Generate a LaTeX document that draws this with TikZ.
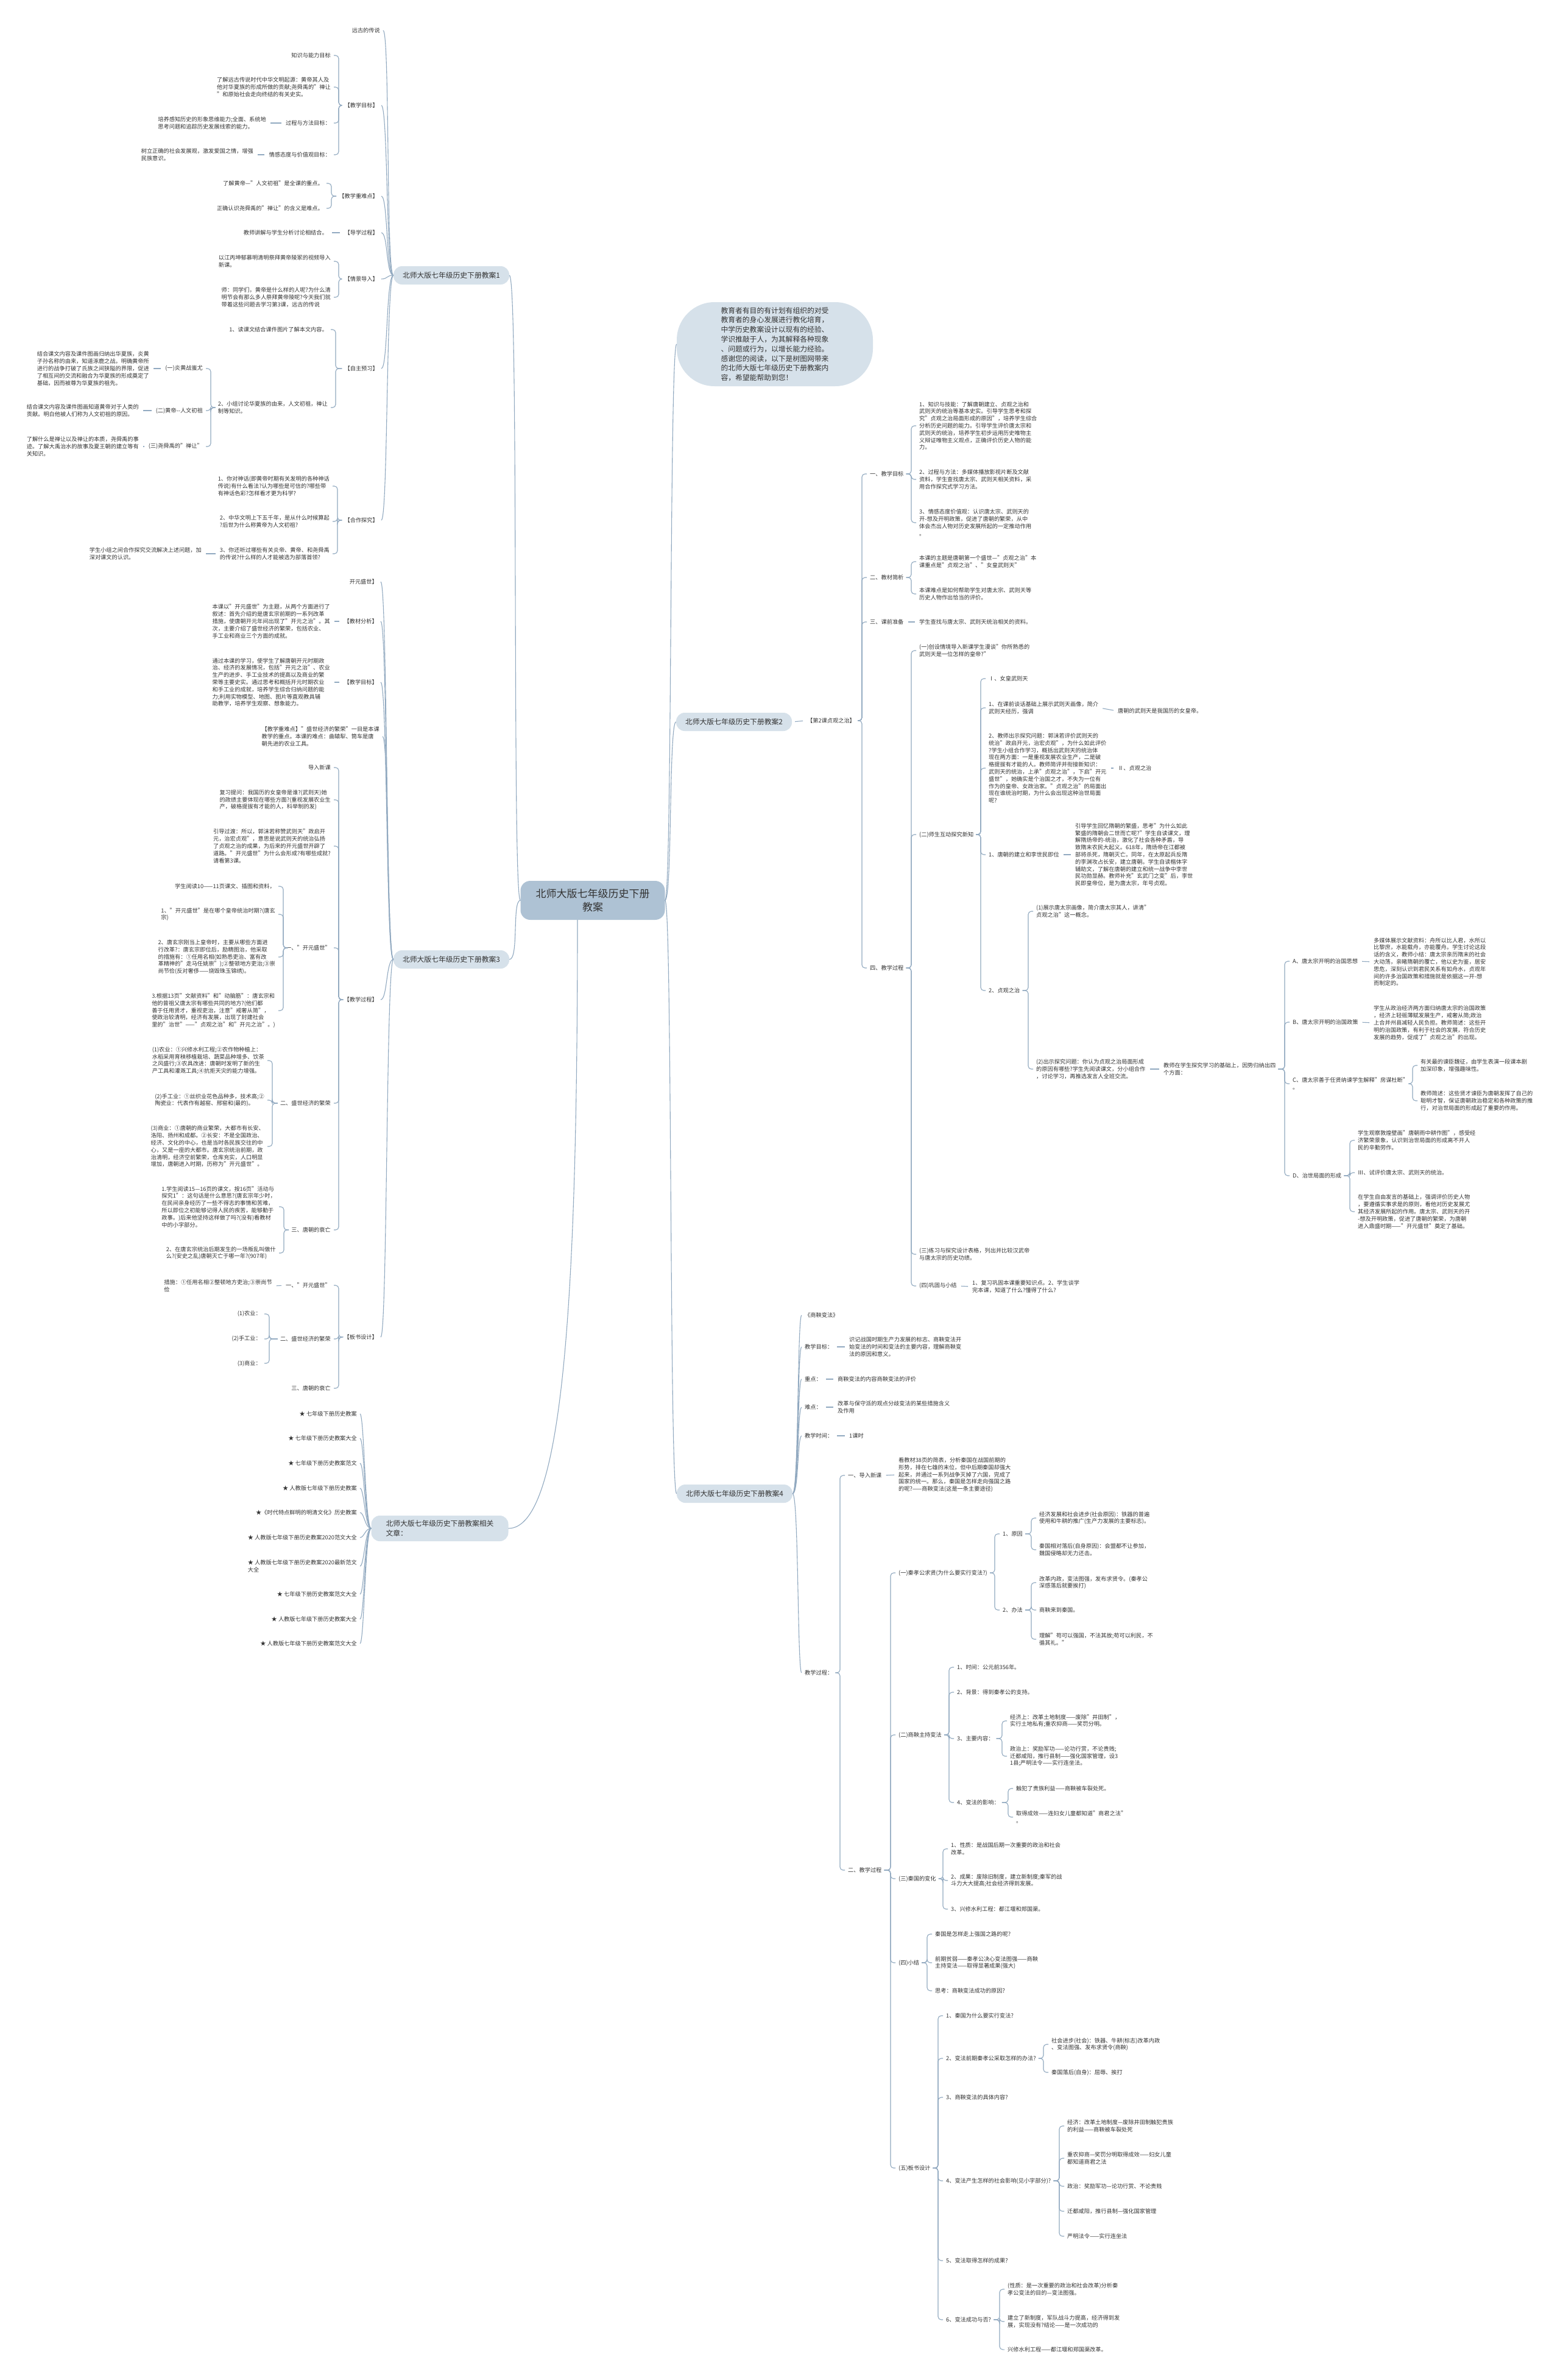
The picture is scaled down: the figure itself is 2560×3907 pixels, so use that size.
\documentclass[tikz,border=0pt]{standalone}
\usepackage{fontspec}
\setmainfont{Noto Sans CJK SC}
\usetikzlibrary{calc}
\definecolor{wireBlue}{HTML}{91A9C0}
\definecolor{rootFill}{HTML}{AEC2D4}
\definecolor{topicFill}{HTML}{D6E1EA}
\definecolor{inkGray}{HTML}{333333}

\begin{document}
\begin{tikzpicture}[x=1pt, y=-1pt,
	root/.style={
		rounded corners=16pt, fill=rootFill, text=inkGray,
		font=\fontsize{17}{22}\selectfont, align=center,
		minimum width=237pt, minimum height=64pt
	},
	topic/.style={
		rounded corners=14pt, fill=topicFill, text=inkGray,
		font=\fontsize{11.8}{15.8}\selectfont, align=left,
		minimum width=190pt, minimum height=30pt
	},
	leaf/.style={
		text=inkGray, font=\fontsize{9.2}{11.8}\selectfont,
		align=left, inner xsep=2pt, inner ysep=1pt
	},
	lf/.style={leaf, anchor=east},
	rt/.style={leaf, anchor=west},
	wire/.style={draw=wireBlue, line width=1.1pt},
	bracket/.style={wire, rounded corners=5pt, shorten <=2pt, shorten >=3pt},
	link/.style={wire, shorten <=5pt, shorten >=5pt}
	]

	\fill[white] (0,0) rectangle (2560,3907);
	\useasboundingbox (0,0) rectangle (2560,3907);

	\node[root] (root) at (973,1478) {北师大版七年级历史下册\\教案};

	\node[topic, rounded corners=62pt, minimum width=322pt, minimum height=138pt] (intro) at (1272,565)
	{教育者有目的有计划有组织的对受\\教育者的身心发展进行教化培育，\\中学历史教案设计以现有的经验、\\学识推敲于人，为其解释各种现象\\、问题或行为，以增长能力经验。\\感谢您的阅读，以下是树图网带来\\的北师大版七年级历史下册教案内\\容，希望能帮助到您！};
	\node[topic] (b1) at (741,452) {北师大版七年级历史下册教案1};
	\node[topic] (b3) at (741,1575) {北师大版七年级历史下册教案3};
	\node[topic, minimum width=225pt, minimum height=42pt] (rel) at (722,2509) {北师大版七年级历史下册教案相关\\文章：};
	\node[topic] (b2) at (1205,1185) {北师大版七年级历史下册教案2};
	\node[topic] (b4) at (1206,2452) {北师大版七年级历史下册教案4};

	\draw[wire] (root.west) .. controls +(-14,0) and +(16,0) .. (b1.east);
	\draw[wire] (root.west) .. controls +(-14,0) and +(16,0) .. (b3.east);
	\draw[wire] ([xshift=-25pt]root.south) .. controls +(0,620) and +(90,0) .. (rel.east);
	\draw[wire] (root.east) .. controls +(12,0) and +(-12,0) .. (intro.west);
	\draw[wire] (root.east) .. controls +(12,0) and +(-12,0) .. (b2.west);
	\draw[wire] (root.east) .. controls +(12,0) and +(-12,0) .. (b4.west);

	% lesson 1
	\node[lf] (b1a) at (626,50) {远古的传说};
	\node[lf] (b1goal) at (623,173) {【教学目标】};
	\node[lf] (b1key) at (623,322) {【教学重难点】};
	\node[lf] (b1guide) at (623,382) {【导学过程】};
	\node[lf] (b1scene) at (623,458) {【情景导入】};
	\node[lf] (b1self) at (623,605) {【自主预习】};
	\node[lf] (b1coop) at (623,854) {【合作探究】};
	\foreach \c in {b1a,b1goal,b1key,b1guide,b1scene,b1self,b1coop}
		\draw[wire, shorten >=3pt] (b1.west) .. controls +(-12,0) and +(14,0) .. (\c.east);

	\node[lf] (g1) at (545,91) {知识与能力目标};
	\node[lf] (g2) at (545,143) {了解远古传说时代中华文明起源：黄帝其人及\\他对华夏族的形成所做的贡献;尧舜禹的"禅让\\"和原始社会走向终结的有关史实。};
	\node[lf] (g3) at (545,202) {过程与方法目标：};
	\node[lf] (g4) at (545,254) {情感态度与价值观目标：};
	\foreach \c in {g1,g2,g3,g4}
		\draw[bracket] (b1goal.west) -| ([xshift=11pt]\c.east) -- (\c.east);
	\node[lf] (g3a) at (439,202) {培养感知历史的形象思维能力;全面、系统地\\思考问题和追踪历史发展线索的能力。};
	\node[lf] (g4a) at (418,254) {树立正确的社会发展观，激发爱国之情，增强\\民族意识。};
	\draw[link] (g3.west) -- (g3a.east);
	\draw[link] (g4.west) -- (g4a.east);

	\node[lf] (k1) at (533,301) {了解黄帝—"人文初祖"是全课的重点。};
	\node[lf] (k2) at (533,342) {正确认识尧舜禹的"禅让"的含义是难点。};
	\foreach \c in {k1,k2}
		\draw[bracket] (b1key.west) -| ([xshift=11pt]\c.east) -- (\c.east);

	\node[lf] (gd1) at (540,382) {教师讲解与学生分析讨论相结合。};
	\draw[link] (b1guide.west) -- (gd1.east);

	\node[lf] (s1) at (545,429) {以江丙坤郁慕明清明祭拜黄帝陵冢的视频导入\\新课。};
	\node[lf] (s2) at (545,488) {师：同学们，黄帝是什么样的人呢?为什么清\\明节会有那么多人祭拜黄帝陵呢?今天我们就\\带着这些问题去学习第3课，远古的传说};
	\foreach \c in {s1,s2}
		\draw[bracket] (b1scene.west) -| ([xshift=11pt]\c.east) -- (\c.east);

	\node[lf] (p1) at (540,541) {1、读课文结合课件图片了解本文内容。};
	\node[lf] (p2) at (540,669) {2、小组讨论华夏族的由来，人文初祖，禅让\\制等知识。};
	\foreach \c in {p1,p2}
		\draw[bracket] (b1self.west) -| ([xshift=11pt]\c.east) -- (\c.east);
	\node[lf] (p2a) at (335,605) {(一)炎黄战蚩尤};
	\node[lf] (p2b) at (335,674) {(二)黄帝-{}-人文初祖};
	\node[lf] (p2c) at (335,733) {(三)尧舜禹的"禅让"};
	\foreach \c in {p2a,p2b,p2c}
		\draw[bracket] (p2.west) -| ([xshift=11pt]\c.east) -- (\c.east);
	\node[lf] (p2a1) at (247,605) {结合课文内容及课件图画归纳出华夏族，炎黄\\子孙名称的由来，知道涿鹿之战。明确黄帝所\\进行的战争打破了氏族之间狭隘的界限，促进\\了相互间的交流和融合为华夏族的形成奠定了\\基础，因而被尊为华夏族的祖先。};
	\node[lf] (p2b1) at (230,674) {结合课文内容及课件图画知道黄帝对于人类的\\贡献。明白他被人们称为人文初祖的原因。};
	\node[lf] (p2c1) at (230,733) {了解什么是禅让以及禅让的本质，尧舜禹的事\\迹。了解大禹治水的故事及夏王朝的建立等有\\关知识。};
	\draw[link] (p2a.west) -- (p2a1.east);
	\draw[link] (p2b.west) -- (p2b1.east);
	\draw[link] (p2c.west) -- (p2c1.east);

	\node[lf] (c1) at (543,798) {1、你对神话(即黄帝时期有关发明的各种神话\\传说)有什么看法?认为哪些是可信的?哪些带\\有神话色彩?怎样看才更为科学?};
	\node[lf] (c2) at (543,856) {2、中华文明上下五千年，是从什么时候算起\\?后世为什么称黄帝为人文初祖?};
	\node[lf] (c3) at (543,909) {3、你还听过哪些有关炎帝、黄帝、和尧舜禹\\的传说?什么样的人才能被选为部落首领?};
	\foreach \c in {c1,c2,c3}
		\draw[bracket] (b1coop.west) -| ([xshift=11pt]\c.east) -- (\c.east);
	\node[lf] (c3a) at (333,909) {学生小组之间合作探究交流解决上述问题，加\\深对课文的认识。};
	\draw[link] (c3.west) -- (c3a.east);

	% lesson 3
	\node[lf] (t1) at (622,955) {开元盛世】};
	\node[lf] (t2) at (622,1020) {【教材分析】};
	\node[lf] (t3) at (622,1120) {【教学目标】};
	\node[lf] (t4) at (625,1209) {【教学重难点】"盛世经济的繁荣"一目是本课\\教学的重点。本课的难点：曲辕犁、筒车是唐\\朝先进的农业工具。};
	\node[lf] (t5) at (622,1641) {【教学过程】};
	\node[lf] (t6) at (622,2195) {【板书设计】};
	\foreach \c in {t1,t2,t3,t4,t5,t6}
		\draw[wire, shorten >=3pt] (b3.west) .. controls +(-12,0) and +(14,0) .. (\c.east);

	\node[lf] (t2a) at (544,1020) {本课以"开元盛世"为主题，从两个方面进行了\\叙述：首先介绍的是唐玄宗前期的一系列改革\\措施，使唐朝开元年间出现了"开元之治"。其\\次，主要介绍了盛世经济的繁荣，包括农业、\\手工业和商业三个方面的成就。};
	\node[lf] (t3a) at (544,1120) {通过本课的学习，使学生了解唐朝开元时期政\\治、经济的发展情况，包括"开元之治"、农业\\生产的进步、手工业技术的提高以及商业的繁\\荣等主要史实。通过思考和概括开元时期农业\\和手工业的成就，培养学生综合归纳问题的能\\力;利用实物模型、地图、图片等直观教具辅\\助教学，培养学生观察、想象能力。};
	\draw[link] (t2.west) -- (t2a.east);
	\draw[link] (t3.west) -- (t3a.east);

	\node[lf] (t5a) at (545,1260) {导入新课};
	\node[lf] (t5b) at (545,1313) {复习提问：我国历的女皇帝是谁?(武则天)她\\的政绩主要体现在哪些方面?(重视发展农业生\\产，破格提拔有才能的人，科举制的发)};
	\node[lf] (t5c) at (545,1389) {引导过渡：所以，郭沫若称赞武则天"政启开\\元，治宏贞观"，意思是说武则天的统治弘扬\\了贞观之治的成果，为后来的开元盛世开辟了\\道路。"开元盛世"为什么会形成?有哪些成就?\\请看第3课。};
	\node[lf] (t5d) at (545,1556) {一、"开元盛世"};
	\node[lf] (t5e) at (545,1811) {二、盛世经济的繁荣};
	\node[lf] (t5f) at (545,2019) {三、唐朝的衰亡};
	\foreach \c in {t5a,t5b,t5c,t5d,t5e,t5f}
		\draw[bracket] (t5.west) -| ([xshift=11pt]\c.east) -- (\c.east);

	\node[lf] (t5d1) at (454,1455) {学生阅读10——11页课文、插图和资料，};
	\node[lf] (t5d2) at (454,1501) {1、"开元盛世"是在哪个皇帝统治时期?(唐玄\\宗)};
	\node[lf] (t5d3) at (454,1571) {2、唐玄宗刚当上皇帝时，主要从哪些方面进\\行改革?：唐玄宗即位后，励精图治，他采取\\的措施有：①任用名相(如熟悉吏治、富有改\\革精神的"走马任姚崇");②整顿地方吏治;③崇\\尚节俭(反对奢侈——烧毁珠玉锦绣)。};
	\node[lf] (t5d4) at (454,1659) {3.根据13页"文献资料"和"动脑筋"：唐玄宗和\\他的曾祖父唐太宗有哪些共同的地方?(他们都\\善于任用贤才，重视吏治，注意"戒奢从简"，\\使政治较清明，经济有发展，出现了封建社会\\里的"治世"——"贞观之治"和"开元之治"。)};
	\foreach \c in {t5d1,t5d2,t5d3,t5d4}
		\draw[bracket] (t5d.west) -| ([xshift=11pt]\c.east) -- (\c.east);

	\node[lf] (t5e1) at (436,1741) {(1)农业：①兴修水利工程;②农作物种植上：\\水稻采用育秧移植栽培、蔬菜品种增多、饮茶\\之风盛行;③农具改进：唐朝时发明了新的生\\产工具和灌溉工具;④抗拒天灾的能力增强。};
	\node[lf] (t5e2) at (436,1806) {(2)手工业：①丝织业花色品种多，技术高;②\\陶瓷业：代表作有越窑、邢窑和(最的)。};
	\node[lf] (t5e3) at (436,1882) {(3)商业：①唐朝的商业繁荣，大都市有长安、\\洛阳、扬州和成都。②长安：不是全国政治、\\经济、文化的中心，也是当时各民族交往的中\\心，又是一座的大都市。唐玄宗统治前期，政\\治清明，经济空前繁荣，仓库充实，人口明显\\增加，唐朝进入时期，历称为"开元盛世"。};
	\foreach \c in {t5e1,t5e2,t5e3}
		\draw[bracket] (t5e.west) -| ([xshift=11pt]\c.east) -- (\c.east);

	\node[lf] (t5f1) at (455,1981) {1.学生阅读15—16页的课文，按16页"活动与\\探究1"：这句话是什么意思?(唐玄宗年少时，\\在民间亲身经历了一些不得志的事情和苦难，\\所以即位之初能够记得人民的疾苦，能够勤于\\政事。)后来他坚持这样做了吗?(没有)看教材\\中的小字部分。};
	\node[lf] (t5f2) at (455,2057) {2、在唐玄宗统治后期发生的一场叛乱叫做什\\么?(安史之乱)唐朝灭亡于哪一年?(907年)};
	\foreach \c in {t5f1,t5f2}
		\draw[bracket] (t5f.west) -| ([xshift=11pt]\c.east) -- (\c.east);

	\node[lf] (t6a) at (545,2110) {一、"开元盛世"};
	\node[lf] (t6b) at (545,2198) {二、盛世经济的繁荣};
	\node[lf] (t6c) at (545,2279) {三、唐朝的衰亡};
	\foreach \c in {t6a,t6b,t6c}
		\draw[bracket] (t6.west) -| ([xshift=11pt]\c.east) -- (\c.east);
	\node[lf] (t6a1) at (449,2111) {措施：①任用名相②整顿地方吏治;③崇尚节\\俭};
	\draw[link] (t6a.west) -- (t6a1.east);
	\node[lf] (t6b1) at (431,2157) {(1)农业：};
	\node[lf] (t6b2) at (431,2198) {(2)手工业：};
	\node[lf] (t6b3) at (431,2238) {(3)商业：};
	\foreach \c in {t6b1,t6b2,t6b3}
		\draw[bracket] (t6b.west) -| ([xshift=11pt]\c.east) -- (\c.east);

	% related articles
	\node[lf] (r1) at (588,2321) {★ 七年级下册历史教案};
	\node[lf] (r2) at (588,2361) {★ 七年级下册历史教案大全};
	\node[lf] (r3) at (588,2402) {★ 七年级下册历史教案范文};
	\node[lf] (r4) at (588,2443) {★ 人教版七年级下册历史教案};
	\node[lf] (r5) at (588,2483) {★《时代特点鲜明的明清文化》历史教案};
	\node[lf] (r6) at (588,2524) {★ 人教版七年级下册历史教案2020范文大全};
	\node[lf] (r7) at (588,2571) {★ 人教版七年级下册历史教案2020最新范文\\大全};
	\node[lf] (r8) at (588,2617) {★ 七年级下册历史教案范文大全};
	\node[lf] (r9) at (588,2658) {★ 人教版七年级下册历史教案大全};
	\node[lf] (r10) at (588,2698) {★ 人教版七年级下册历史教案范文大全};
	\foreach \c in {r1,r2,r3,r4,r5,r6,r7,r8,r9,r10}
		\draw[wire, shorten >=3pt] (rel.west) .. controls +(-10,0) and +(10,0) .. (\c.east);

	% lesson 2
	\node[rt] (ch2) at (1323,1183) {【第2课贞观之治】};
	\draw[link] (b2.east) -- (ch2.west);
	\node[rt] (u1) at (1426,778) {一、教学目标};
	\node[rt] (u2) at (1426,948) {二、教材简析};
	\node[rt] (u3) at (1426,1021) {三、课前准备};
	\node[rt] (u4) at (1426,1589) {四、教学过程};
	\foreach \c in {u1,u2,u3,u4}
		\draw[bracket] (ch2.east) -| ([xshift=-11pt]\c.west) -- (\c.west);

	\node[rt] (u1a) at (1507,699) {1、知识与技能：了解唐朝建立、贞观之治和\\武则天的统治等基本史实。引导学生思考和探\\究"贞观之治局面形成的原因"，培养学生综合\\分析历史问题的能力。引导学生评价唐太宗和\\武则天的统治，培养学生初步运用历史唯物主\\义辩证唯物主义观点，正确评价历史人物的能\\力。};
	\node[rt] (u1b) at (1507,787) {2、过程与方法：多媒体播放影视片断及文献\\资料，学生查找唐太宗、武则天相关资料，采\\用合作探究式学习方法。};
	\node[rt] (u1c) at (1507,858) {3、情感态度价值观：认识唐太宗、武则天的\\开-想及开明政策，促进了唐朝的繁荣，从中\\体会杰出人物对历史发展所起的一定推动作用\\。};
	\foreach \c in {u1a,u1b,u1c}
		\draw[bracket] (u1.east) -| ([xshift=-11pt]\c.west) -- (\c.west);
	\node[rt] (u2a) at (1507,922) {本课的主题是唐朝第一个盛世—"贞观之治"本\\课重点是"贞观之治"、"女皇武则天"};
	\node[rt] (u2b) at (1507,975) {本课难点是如何帮助学生对唐太宗、武则天等\\历史人物作出恰当的评价。};
	\foreach \c in {u2a,u2b}
		\draw[bracket] (u2.east) -| ([xshift=-11pt]\c.west) -- (\c.west);
	\node[rt] (u3a) at (1507,1021) {学生查找与唐太宗、武则天统治相关的资料。};
	\draw[link] (u3.east) -- (u3a.west);

	\node[rt] (u4a) at (1507,1068) {(一)创设情境导入新课学生漫谈"你所熟悉的\\武则天是一位怎样的皇帝?"};
	\node[rt] (u4b) at (1507,1370) {(二)师生互动探究新知};
	\node[rt] (u4c) at (1507,2059) {(三)练习与探究设计表格，列出并比较汉武帝\\与唐太宗的历史功绩。};
	\node[rt] (u4d) at (1507,2111) {(四)巩固与小结};
	\foreach \c in {u4a,u4b,u4c,u4d}
		\draw[bracket] (u4.east) -| ([xshift=-11pt]\c.west) -- (\c.west);
	\node[rt] (u4d1) at (1594,2112) {1、复习巩固本课重要知识点。2、学生谈学\\完本课，知道了什么?懂得了什么?};
	\draw[link] (u4d.east) -- (u4d1.west);

	\node[rt] (v1) at (1621,1114) {Ⅰ、女皇武则天};
	\node[rt] (v2) at (1621,1162) {1、在课前谈话基础上展示武则天画像，简介\\武则天经历，强调};
	\node[rt] (v3) at (1621,1261) {2、教师出示探究问题：郭沫若评价武则天的\\统治"政启开元，治宏贞观"，为什么如此评价\\?学生小组合作学习，概括出武则天的统治体\\现在两方面：一是重视发展农业生产，二是破\\格提拔有才能的人。教师简评并衔接新知识：\\武则天的统治，上承"贞观之治"，下启"开元\\盛世"，她确实是个治国之才，不失为一位有\\作为的皇帝、女政治家。"贞观之治"的局面出\\现在谁统治时期，为什么会出现这种治世局面\\呢?};
	\node[rt] (v4) at (1621,1403) {1、唐朝的建立和李世民即位};
	\node[rt] (v5) at (1621,1626) {2、贞观之治};
	\foreach \c in {v1,v2,v3,v4,v5}
		\draw[bracket] (u4b.east) -| ([xshift=-11pt]\c.west) -- (\c.west);
	\node[rt] (v2a) at (1833,1167) {唐朝的武则天是我国历的女皇帝。};
	\node[rt] (v3a) at (1833,1261) {Ⅱ、贞观之治};
	\node[rt] (v4a) at (1763,1403) {引导学生回忆隋朝的繁盛，思考"为什么如此\\繁盛的隋朝会二世而亡呢?"学生自读课文，理\\解隋炀帝的-统治，激化了社会各种矛盾，导\\致隋末农民大起义。618年，隋炀帝在江都被\\部将杀死，隋朝灭亡。同年，在太原起兵反隋\\的李渊攻占长安，建立唐朝。学生自读楷体字\\辅助文，了解在唐朝的建立和统一战争中李世\\民功勋显赫。教师补充"玄武门之变"后，李世\\民即皇帝位，是为唐太宗，年号贞观。};
	\draw[link] (v2.east) -- (v2a.west);
	\draw[link] (v3.east) -- (v3a.west);
	\draw[link] (v4.east) -- (v4a.west);

	\node[rt] (v5a) at (1699,1496) {(1)展示唐太宗画像，简介唐太宗其人，讲清"\\贞观之治"这一概念。};
	\node[rt] (v5b) at (1699,1755) {(2)出示探究问题：你认为贞观之治局面形成\\的原因有哪些?学生先阅读课文，分小组合作\\，讨论学习，再推选发言人全班交流。};
	\foreach \c in {v5a,v5b}
		\draw[bracket] (v5.east) -| ([xshift=-11pt]\c.west) -- (\c.west);
	\node[rt] (v5c) at (1908,1755) {教师在学生探究学习的基础上，因势归纳出四\\个方面：};
	\draw[link] (v5b.east) -- (v5c.west);

	\node[rt] (w1) at (2120,1578) {A、唐太宗开明的治国思想};
	\node[rt] (w2) at (2120,1678) {B、唐太宗开明的治国政策};
	\node[rt] (w3) at (2120,1779) {C、唐太宗善于任贤纳谏学生解释"房谋杜断"\\。};
	\node[rt] (w4) at (2120,1930) {D、治世局面的形成};
	\foreach \c in {w1,w2,w3,w4}
		\draw[bracket] (v5c.east) -| ([xshift=-11pt]\c.west) -- (\c.west);
	\node[rt] (w1a) at (2253,1579) {多媒体展示文献资料：舟所以比人君，水所以\\比黎庶，水能载舟，亦能覆舟。学生讨论这段\\话的含义，教师小结：唐太宗亲历隋末的社会\\大动荡，亲睹隋朝的覆亡，他以史为鉴，居安\\思危，深刻认识到君民关系有如舟水，贞观年\\间的许多治国政策和措施就是依据这一开-想\\而制定的。};
	\node[rt] (w2a) at (2253,1679) {学生从政治经济两方面归纳唐太宗的治国政策\\，经济上轻徭薄赋发展生产，戒奢从简;政治\\上合并州县减轻人民负担。教师简述：这些开\\明的治国政策，有利于社会的发展，符合历史\\发展的趋势，促成了"贞观之治"的出现。};
	\draw[link] (w1.east) -- (w1a.west);
	\draw[link] (w2.east) -- (w2a.west);
	\node[rt] (w3a) at (2330,1749) {有关最的谏臣魏征，由学生表演一段课本剧\\加深印象，增强趣味性。};
	\node[rt] (w3b) at (2330,1807) {教师简述：这些贤才谏臣为唐朝发挥了自己的\\聪明才智，保证唐朝政治稳定和各种政策的推\\行，对治世局面的形成起了重要的作用。};
	\foreach \c in {w3a,w3b}
		\draw[bracket] (w3.east) -| ([xshift=-11pt]\c.west) -- (\c.west);
	\node[rt] (w4a) at (2227,1872) {学生观察敦煌壁画"唐朝雨中耕作图"，感受经\\济繁荣景象，认识到治世局面的形成离不开人\\民的辛勤劳作。};
	\node[rt] (w4b) at (2227,1925) {Ⅲ、试评价唐太宗、武则天的统治。};
	\node[rt] (w4c) at (2227,1989) {在学生自由发言的基础上，强调评价历史人物\\，要遵循实事求是的原则，看他对历史发展尤\\其经济发展所起的作用。唐太宗、武则天的开\\-想及开明政策，促进了唐朝的繁荣，为唐朝\\进入鼎盛时期——"开元盛世"奠定了基础。};
	\foreach \c in {w4a,w4b,w4c}
		\draw[bracket] (w4.east) -| ([xshift=-11pt]\c.west) -- (\c.west);

	% lesson 4
	\node[rt] (x1) at (1319,2159) {《商鞅变法》};
	\node[rt] (x2) at (1319,2211) {教学目标：};
	\node[rt] (x3) at (1319,2264) {重点：};
	\node[rt] (x4) at (1319,2310) {难点：};
	\node[rt] (x5) at (1319,2357) {教学时间：};
	\node[rt] (x6) at (1319,2746) {教学过程：};
	\foreach \c in {x1,x2,x3,x4,x5,x6}
		\draw[wire, shorten >=3pt] (b4.east) .. controls +(10,0) and +(-10,0) .. (\c.west);
	\node[rt] (x2a) at (1392,2211) {识记战国时期生产力发展的标志、商鞅变法开\\始变法的时间和变法的主要内容，理解商鞅变\\法的原因和意义。};
	\node[rt] (x3a) at (1373,2264) {商鞅变法的内容商鞅变法的评价};
	\node[rt] (x4a) at (1373,2310) {改革与保守派的观点分歧变法的某些措施含义\\及作用};
	\node[rt] (x5a) at (1392,2357) {1课时};
	\draw[link] (x2.east) -- (x2a.west);
	\draw[link] (x3.east) -- (x3a.west);
	\draw[link] (x4.east) -- (x4a.west);
	\draw[link] (x5.east) -- (x5a.west);

	\node[rt] (y1) at (1390,2422) {一、导入新课};
	\node[rt] (y2) at (1390,3070) {二、教学过程};
	\foreach \c in {y1,y2}
		\draw[bracket] (x6.east) -| ([xshift=-11pt]\c.west) -- (\c.west);
	\node[rt] (y1a) at (1473,2421) {看教材38页的简表，分析秦国在战国前期的\\形势，排在七雄的末位，但中后期秦国却强大\\起来，并通过一系列战争灭掉了六国，完成了\\国家的统一。那么，秦国是怎样走向强国之路\\的呢?——商鞅变法(这是一条主要途径)};
	\draw[link] (y1.east) -- (y1a.west);

	\node[rt] (z1) at (1473,2582) {(一)秦孝公求贤(为什么要实行变法?)};
	\node[rt] (z2) at (1473,2848) {(二)商鞅主持变法};
	\node[rt] (z3) at (1473,3084) {(三)秦国的变化};
	\node[rt] (z4) at (1473,3222) {(四)小结};
	\node[rt] (z5) at (1473,3559) {(五)板书设计};
	\foreach \c in {z1,z2,z3,z4,z5}
		\draw[bracket] (y2.east) -| ([xshift=-11pt]\c.west) -- (\c.west);

	\node[rt] (z1a) at (1644,2518) {1、原因};
	\node[rt] (z1b) at (1644,2643) {2、办法};
	\foreach \c in {z1a,z1b}
		\draw[bracket] (z1.east) -| ([xshift=-11pt]\c.west) -- (\c.west);
	\node[rt] (z1a1) at (1704,2492) {经济发展和社会进步(社会原因)：铁器的普遍\\使用和牛耕的推广(生产力发展的主要标志)。};
	\node[rt] (z1a2) at (1704,2544) {秦国相对落后(自身原因)：会盟都不让参加，\\魏国侵略却无力还击。};
	\foreach \c in {z1a1,z1a2}
		\draw[bracket] (z1a.east) -| ([xshift=-11pt]\c.west) -- (\c.west);
	\node[rt] (z1b1) at (1704,2598) {改革内政，变法图强，发布求贤令。(秦孝公\\深感落后就要挨打)};
	\node[rt] (z1b2) at (1704,2643) {商鞅来到秦国。};
	\node[rt] (z1b3) at (1704,2691) {理解"苟可以强国，不法其故;苟可以利民，不\\循其礼。"};
	\foreach \c in {z1b1,z1b2,z1b3}
		\draw[bracket] (z1b.east) -| ([xshift=-11pt]\c.west) -- (\c.west);

	\node[rt] (z2a) at (1569,2737) {1、时间：公元前356年。};
	\node[rt] (z2b) at (1569,2778) {2、背景：得到秦孝公的支持。};
	\node[rt] (z2c) at (1569,2854) {3、主要内容：};
	\node[rt] (z2d) at (1569,2959) {4、变法的影响：};
	\foreach \c in {z2a,z2b,z2c,z2d}
		\draw[bracket] (z2.east) -| ([xshift=-11pt]\c.west) -- (\c.west);
	\node[rt] (z2c1) at (1656,2825) {经济上：改革土地制度——废除"井田制"，\\实行土地私有;重农抑商——奖罚分明。};
	\node[rt] (z2c2) at (1656,2883) {政治上：奖励军功——论功行赏，不论贵贱;\\迁都咸阳，推行县制——强化国家管理，设3\\1县;严明法令——实行连坐法。};
	\foreach \c in {z2c1,z2c2}
		\draw[bracket] (z2c.east) -| ([xshift=-11pt]\c.west) -- (\c.west);
	\node[rt] (z2d1) at (1666,2936) {触犯了贵族利益——商鞅被车裂处死。};
	\node[rt] (z2d2) at (1666,2983) {取得成效——连妇女儿童都知道"商君之法"\\。};
	\foreach \c in {z2d1,z2d2}
		\draw[bracket] (z2d.east) -| ([xshift=-11pt]\c.west) -- (\c.west);

	\node[rt] (z3a) at (1559,3035) {1、性质：是战国后期一次重要的政治和社会\\改革。};
	\node[rt] (z3b) at (1559,3087) {2、成果：废除旧制度，建立新制度;秦军的战\\斗力大大提高;社会经济得到发展。};
	\node[rt] (z3c) at (1559,3134) {3、兴修水利工程：都江堰和郑国渠。};
	\foreach \c in {z3a,z3b,z3c}
		\draw[bracket] (z3.east) -| ([xshift=-11pt]\c.west) -- (\c.west);

	\node[rt] (z4a) at (1533,3175) {秦国是怎样走上强国之路的呢?};
	\node[rt] (z4b) at (1533,3222) {前期贫弱——秦孝公决心变法图强——商鞅\\主持变法——取得显著成果(强大)};
	\node[rt] (z4c) at (1533,3268) {思考：商鞅变法成功的原因?};
	\foreach \c in {z4a,z4b,z4c}
		\draw[bracket] (z4.east) -| ([xshift=-11pt]\c.west) -- (\c.west);

	\node[rt] (z5a) at (1551,3309) {1、秦国为什么要实行变法?};
	\node[rt] (z5b) at (1551,3379) {2、变法前期秦孝公采取怎样的办法?};
	\node[rt] (z5c) at (1551,3443) {3、商鞅变法的具体内容?};
	\node[rt] (z5d) at (1551,3580) {4、变法产生怎样的社会影响(见小字部分)?};
	\node[rt] (z5e) at (1551,3711) {5、变法取得怎样的成果?};
	\node[rt] (z5f) at (1551,3808) {6、变法成功与否?};
	\foreach \c in {z5a,z5b,z5c,z5d,z5e,z5f}
		\draw[bracket] (z5.east) -| ([xshift=-11pt]\c.west) -- (\c.west);
	\node[rt] (z5b1) at (1724,3356) {社会进步(社会)：铁器、牛耕(标志)改革内政\\、变法图强、发布求贤令(商鞅)};
	\node[rt] (z5b2) at (1724,3402) {秦国落后(自身)：屈辱、挨打};
	\foreach \c in {z5b1,z5b2}
		\draw[bracket] (z5b.east) -| ([xshift=-11pt]\c.west) -- (\c.west);
	\node[rt] (z5d1) at (1750,3490) {经济：改革土地制度—废除井田制触犯贵族\\的利益——商鞅被车裂处死};
	\node[rt] (z5d2) at (1750,3543) {重农抑商—奖罚分明取得成效——妇女儿童\\都知道商君之法};
	\node[rt] (z5d3) at (1750,3589) {政治：奖励军功—论功行赏、不论贵贱};
	\node[rt] (z5d4) at (1750,3630) {迁都咸阳，推行县制—强化国家管理};
	\node[rt] (z5d5) at (1750,3671) {严明法令——实行连坐法};
	\foreach \c in {z5d1,z5d2,z5d3,z5d4,z5d5}
		\draw[bracket] (z5d.east) -| ([xshift=-11pt]\c.west) -- (\c.west);
	\node[rt] (z5f1) at (1652,3758) {(性质：是一次重要的政治和社会改革)分析秦\\孝公变法的目的—变法图强。};
	\node[rt] (z5f2) at (1652,3811) {建立了新制度，军队战斗力提高，经济得到发\\展，实现没有?结论——是一次成功的};
	\node[rt] (z5f3) at (1652,3857) {兴修水利工程——都江堰和郑国渠改革。};
	\foreach \c in {z5f1,z5f2,z5f3}
		\draw[bracket] (z5f.east) -| ([xshift=-11pt]\c.west) -- (\c.west);

\end{tikzpicture}
\end{document}
